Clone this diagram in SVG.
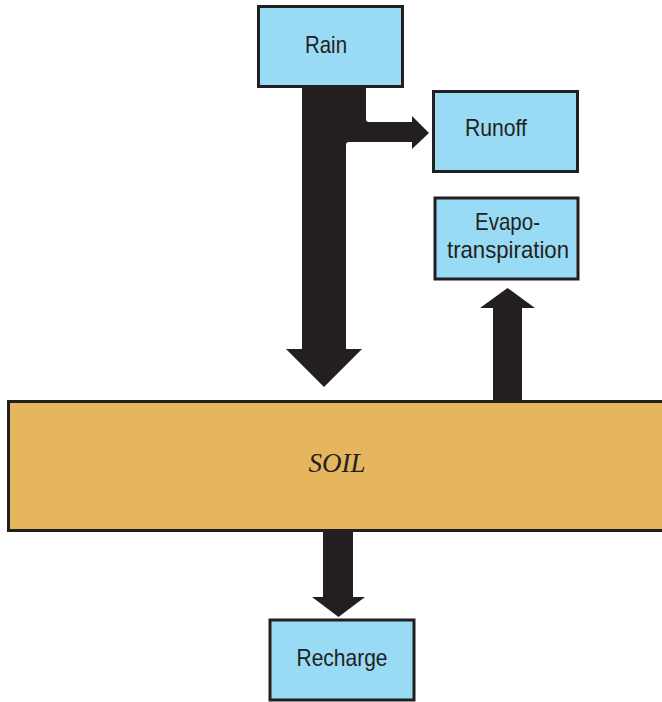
<svg xmlns="http://www.w3.org/2000/svg" width="662" height="702" viewBox="0 0 662 702">
<style>
.box{fill:#99daf5;stroke:#231f20;stroke-width:3}
.soil{fill:#e6b65f;stroke:#231f20;stroke-width:3}
.arrow{fill:#231f20;stroke:none}
.lbl{font-family:"Liberation Sans",Arial,sans-serif;font-size:24px;fill:#231f20;text-anchor:middle}
.soiltxt{font-family:"Liberation Serif","Times New Roman",serif;font-style:italic;font-size:27px;fill:#231f20;text-anchor:middle}
</style>
<rect width="662" height="702" fill="#ffffff"/>
<g id="connectors">
<path class="arrow" d="M302,86 L366,86 L366,119 Q366,122 369,122 L412,122 L412,116 L429,133 L412,149 L412,142 L349,142 Q346,142 346,145 L346,349 L362,349 L324,387 L286,349 L302,349 Z"/>
<path class="arrow" d="M493,401 L493,308 L480,308 L507.5,288 L535,308 L522,308 L522,401 Z"/>
<path class="arrow" d="M323,530 L323,597 L312,597 L338.5,617 L365,597 L353,597 L353,530 Z"/>
</g>
<g id="rain">
<rect class="box" x="258.5" y="6.5" width="144" height="80"/>
<text class="lbl" x="326" y="53" textLength="42" lengthAdjust="spacingAndGlyphs">Rain</text>
</g>
<g id="runoff">
<rect class="box" x="433.5" y="91.5" width="144" height="80"/>
<text class="lbl" x="496" y="136" textLength="62" lengthAdjust="spacingAndGlyphs">Runoff</text>
</g>
<g id="evapotranspiration">
<rect class="box" x="435" y="198" width="143" height="81"/>
<text class="lbl" x="507.5" y="230" textLength="65" lengthAdjust="spacingAndGlyphs">Evapo-</text>
<text class="lbl" x="508" y="258" textLength="122" lengthAdjust="spacingAndGlyphs">transpiration</text>
</g>
<g id="soil">
<rect class="soil" x="8.5" y="401.5" width="670" height="129"/>
<text class="soiltxt" x="337" y="472">SOIL</text>
</g>
<g id="recharge">
<rect class="box" x="270" y="620" width="144" height="80"/>
<text class="lbl" x="342" y="666" textLength="91" lengthAdjust="spacingAndGlyphs">Recharge</text>
</g>
</svg>
